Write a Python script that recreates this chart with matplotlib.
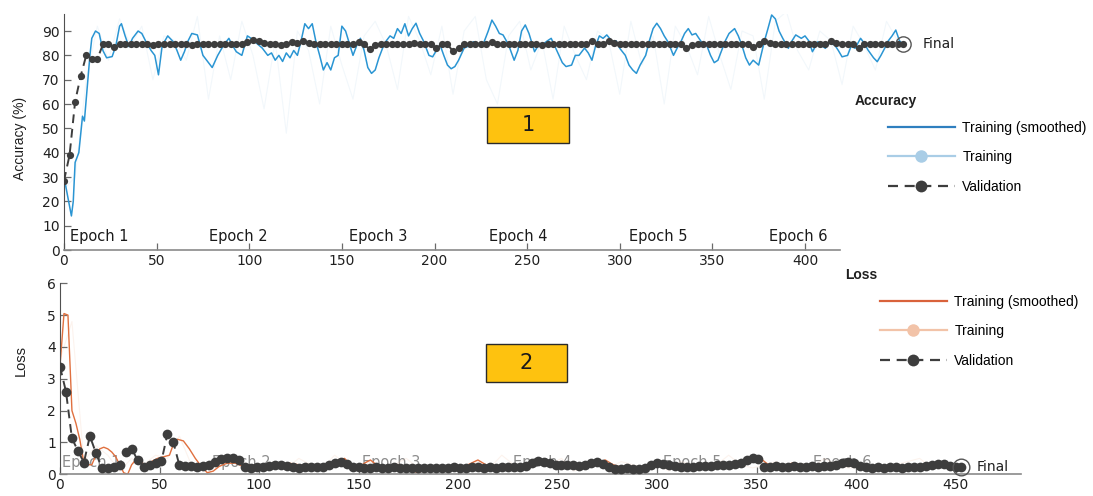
import numpy as np
import matplotlib
matplotlib.use("Agg")
import matplotlib.pyplot as plt
from matplotlib.patches import Rectangle
from matplotlib.lines import Line2D

W, H = 1093, 496

# iterations where validation was run (every 3 iterations)
val_iter = np.arange(0, 454, 3)

# smoothed training accuracy, read at selected iterations
acc_iter = [0, 2, 4, 5, 6, 8, 10, 11, 12, 14, 15, 17, 19, 21, 23, 26, 28, 30, 31, 33,
            35, 37, 40, 42, 44, 47, 49, 51, 53, 56, 59, 61, 63, 65, 67, 69, 72, 75, 78, 80,
            83, 86, 89, 91, 93, 96, 99, 101, 103, 107, 110, 112, 114, 116, 118, 120, 122, 124, 126, 128,
            130, 132, 134, 136, 138, 140, 142, 144, 146, 148, 150, 152, 154, 156, 158, 160, 162, 164, 166, 168,
            170, 172, 174, 176, 178, 180, 182, 184, 186, 188, 190, 192, 194, 197, 199, 201, 203, 205, 207, 209,
            211, 213, 216, 219, 221, 224, 226, 229, 231, 233, 235, 237, 240, 243, 245, 247, 249, 251, 254, 256,
            258, 261, 263, 266, 269, 271, 274, 276, 278, 281, 283, 285, 287, 289, 291, 293, 296, 298, 300, 303,
            305, 307, 309, 311, 314, 316, 318, 320, 322, 324, 326, 329, 331, 333, 335, 337, 339, 341, 344, 347,
            349, 351, 353, 355, 357, 359, 362, 364, 366, 368, 370, 372, 375, 378, 380, 382, 384, 386, 388, 391,
            393, 395, 398, 400, 402, 404, 407, 409, 411, 413, 416, 418, 420, 423, 425, 427, 430, 432, 434, 437,
            439, 441, 443, 445, 447, 449, 451, 453]
acc_smooth = [30, 22, 14, 20, 36, 40, 55, 53, 62, 80, 87, 90, 89, 82, 79, 79.5, 84, 92, 93, 88,
              83.6, 87, 90, 89, 86, 82, 80, 72, 84, 88, 85.6, 82, 78, 81.5, 86, 89, 88.4, 80, 77, 75,
              80, 84, 87, 84, 81.5, 80, 88, 87, 85.6, 83, 80, 81, 78, 80, 77.5, 81, 79, 82, 80, 86,
              93, 91, 93, 85.6, 80, 74, 77, 74, 79, 80, 92, 90, 85, 80, 84, 87, 82, 75, 72.6, 74,
              79, 83, 86, 88, 87, 91, 89, 93, 88, 91, 93.2, 89, 86, 80, 79.4, 82, 84.3, 80, 76, 74.5,
              75.4, 78, 83, 84, 85.6, 84.3, 84, 90, 94.5, 92, 89, 88.4, 84.3, 78, 82, 90, 92.5, 89, 81.5, 84,
              84.3, 86, 87, 82, 77, 75.4, 76, 80, 80, 83, 81, 78, 84, 88, 87, 88.4, 85.6, 86, 82.9, 80,
              76, 74, 72.6, 76, 80, 86, 91, 93.2, 91, 88, 85.6, 80, 83, 85.6, 89, 91, 88.4, 89, 85.6, 84,
              80, 77, 78, 82, 86, 89, 91, 88, 84, 79, 76, 78, 76, 85.6, 91, 96.6, 95, 90, 87, 82.9,
              86, 88.4, 87, 88, 86, 81.5, 85.6, 84, 82.9, 85, 84.3, 82, 79.4, 80, 84, 82.9, 87, 85, 82.2, 79,
              77.4, 80, 82.9, 86, 88, 90.4, 86, 84.5]

# raw training accuracy (every 6 iterations)
raw_iter = np.arange(0, 451, 6)
acc_raw = [25, 30, 70, 92, 78, 95, 84, 92, 70, 88, 86, 78,
           96, 62, 88, 70, 94, 80, 58, 86, 48, 90, 82, 60,
           92, 76, 62, 88, 94, 84, 66, 96, 86, 72, 92, 64,
           90, 96, 70, 60, 88, 94, 74, 86, 62, 92, 80, 70,
           90, 86, 64, 94, 76, 88, 60, 92, 84, 72, 96, 80,
           66, 90, 88, 62, 94, 98, 82, 74, 90, 86, 68, 92,
           84, 74, 94, 86]

acc_val = [28.5, 39.0, 61.0, 71.5, 80.0, 78.5, 78.5, 84.5, 84.5, 83.5, 84.5, 84.6,
           84.5, 84.6, 84.5, 84.5, 84.4, 84.5, 84.5, 84.6, 84.5, 84.5, 84.5, 84.4,
           84.5, 84.5, 84.5, 84.6, 84.5, 84.5, 84.5, 84.5, 84.6, 85.5, 86.5, 86.0,
           85.0, 84.5, 84.5, 84.4, 84.5, 85.3, 85.0, 86.0, 85.0, 84.5, 84.5, 84.6,
           84.5, 84.5, 84.6, 84.5, 84.5, 85.3, 84.5, 82.5, 84.4, 84.5, 84.6, 84.5,
           84.5, 84.6, 84.5, 85.2, 84.6, 84.5, 84.5, 83.0, 84.5, 84.6, 81.6, 83.0,
           84.5, 84.5, 84.6, 84.5, 84.5, 85.3, 84.6, 84.5, 84.5, 84.5, 84.6, 84.5,
           84.5, 84.5, 84.4, 84.5, 84.5, 84.6, 84.5, 84.5, 84.5, 84.6, 84.5, 85.7,
           84.8, 84.5, 86.0, 85.0, 84.6, 84.5, 84.5, 84.5, 84.6, 84.5, 84.5, 84.5,
           84.5, 84.6, 84.5, 84.5, 83.0, 84.4, 84.5, 84.5, 84.6, 84.5, 84.5, 84.5,
           84.6, 84.5, 84.5, 84.5, 83.5, 84.6, 86.0, 85.0, 84.5, 84.5, 84.6, 84.5,
           84.5, 84.5, 84.6, 84.5, 84.5, 84.5, 85.7, 85.2, 84.5, 84.6, 84.5, 83.0,
           84.5, 84.5, 84.6, 84.5, 84.5, 84.5, 84.6, 84.6]

# smoothed training loss
loss_iter = [0, 2, 4, 6, 8, 10, 12, 14, 16, 18, 20, 22, 24, 26, 28, 30, 32, 34, 36, 38,
             40, 43, 46, 49, 52, 55, 57, 59, 62, 65, 68, 71, 74, 77, 80, 84, 88, 92, 96, 100,
             105, 110, 115, 120, 125, 130, 135, 140, 143, 146, 150, 153, 156, 160, 165, 170, 175, 180, 185, 190,
             200, 205, 210, 214, 220, 228, 235, 240, 245, 250, 255, 260, 265, 270, 274, 278, 283, 290, 296, 302,
             308, 315, 322, 330, 338, 344, 348, 352, 356, 362, 368, 374, 380, 388, 394, 398, 404, 412, 420, 428,
             436, 440, 444, 448, 453]
loss_smooth = [3.4, 5.05, 5.0, 2.0, 1.6, 1.08, 0.35, 0.3, 0.3, 0.6, 0.8, 0.85, 0.8, 0.7, 0.55, 0.3, 0.05, 0.0, 0.3, 0.45,
               0.4, 0.3, 0.4, 0.5, 0.55, 0.6, 0.95, 1.1, 1.05, 0.8, 0.5, 0.25, 0.05, 0.1, 0.25, 0.35, 0.35, 0.25, 0.3, 0.25,
               0.3, 0.2, 0.35, 0.3, 0.25, 0.3, 0.2, 0.45, 0.5, 0.3, 0.2, 0.35, 0.45, 0.25, 0.2, 0.3, 0.15, 0.05, 0.2, 0.25,
               0.2, 0.3, 0.45, 0.3, 0.2, 0.25, 0.3, 0.35, 0.4, 0.3, 0.25, 0.2, 0.3, 0.35, 0.45, 0.3, 0.2, 0.15, 0.2, 0.3,
               0.25, 0.2, 0.25, 0.3, 0.25, 0.35, 0.55, 0.5, 0.3, 0.25, 0.35, 0.3, 0.25, 0.3, 0.4, 0.35, 0.25, 0.2, 0.25, 0.2,
               0.25, 0.35, 0.4, 0.3, 0.25]

loss_raw = [3.6, 4.8, 0.4, 0.9, 0.6, 0.1, 0.5, 0.3, 0.6, 0.5, 1.2, 0.3,
            0.1, 0.4, 0.3, 0.5, 0.2, 0.3, 0.4, 0.2, 0.5, 0.3, 0.2, 0.6,
            0.3, 0.1, 0.4, 0.2, 0.3, 0.5, 0.2, 0.3, 0.1, 0.3, 0.2, 0.4,
            0.2, 0.6, 0.3, 0.2, 0.4, 0.3, 0.5, 0.1, 0.2, 0.3, 0.2, 0.4,
            0.3, 0.2, 0.3, 0.1, 0.4, 0.3, 0.2, 0.3, 0.6, 0.3, 0.2, 0.3,
            0.4, 0.2, 0.3, 0.2, 0.5, 0.3, 0.2, 0.2, 0.3, 0.2, 0.3, 0.4,
            0.5, 0.2, 0.3, 0.2]

loss_val = [3.38, 2.60, 1.13, 0.74, 0.37, 1.20, 0.68, 0.20, 0.20, 0.22, 0.30, 0.71,
            0.80, 0.45, 0.22, 0.30, 0.36, 0.42, 1.27, 1.00, 0.28, 0.27, 0.25, 0.22,
            0.25, 0.30, 0.38, 0.47, 0.52, 0.50, 0.46, 0.22, 0.21, 0.22, 0.24, 0.26,
            0.30, 0.28, 0.25, 0.22, 0.21, 0.22, 0.23, 0.22, 0.24, 0.30, 0.35, 0.40,
            0.32, 0.24, 0.22, 0.20, 0.21, 0.22, 0.20, 0.21, 0.22, 0.20, 0.19, 0.20,
            0.21, 0.20, 0.19, 0.20, 0.21, 0.20, 0.22, 0.21, 0.20, 0.22, 0.22, 0.21,
            0.22, 0.21, 0.22, 0.23, 0.22, 0.22, 0.26, 0.35, 0.42, 0.40, 0.35, 0.30,
            0.30, 0.28, 0.30, 0.26, 0.30, 0.36, 0.40, 0.32, 0.22, 0.18, 0.18, 0.19,
            0.18, 0.18, 0.20, 0.30, 0.34, 0.33, 0.30, 0.26, 0.24, 0.23, 0.24, 0.26,
            0.25, 0.26, 0.28, 0.30, 0.28, 0.32, 0.35, 0.45, 0.52, 0.48, 0.22, 0.24,
            0.25, 0.24, 0.23, 0.25, 0.24, 0.23, 0.25, 0.24, 0.25, 0.26, 0.30, 0.36,
            0.38, 0.34, 0.25, 0.22, 0.21, 0.22, 0.21, 0.22, 0.22, 0.21, 0.22, 0.23,
            0.22, 0.25, 0.30, 0.33, 0.32, 0.26, 0.22, 0.22]

epoch_starts = [0, 75.5, 151, 226.5, 302, 377.5]
epoch_labels = ["Epoch 1", "Epoch 2", "Epoch 3", "Epoch 4", "Epoch 5", "Epoch 6"]
legend_labels = ["Training (smoothed)", "Training", "Validation"]

NARROW = ["Liberation Sans Narrow", "Liberation Sans", "DejaVu Sans"]
plt.rcParams["font.family"] = ["DejaVu Sans"]

BLUE = "#2a95d3"
BLUE_LIGHT = "#a9cde6"
ORANGE = "#e0703f"
ORANGE_LIGHT = "#f2c3a8"
GRAY = "#3d3d3d"
DASH = (0, (4.5, 3))


def px_box(left, top, right, bottom):
    return [left / W, 1 - bottom / H, (right - left) / W, (bottom - top) / H]


def style_axes(ax, tick_size):
    for side in ("top", "right"):
        ax.spines[side].set_visible(False)
    ax.spines["left"].set_color("#505050")
    ax.spines["bottom"].set_color("#8a8a8a")
    ax.spines["bottom"].set_linewidth(1.2)
    ax.tick_params(direction="in", length=5, width=0.9, colors="#6a6a6a",
                   labelcolor="#202020", labelsize=tick_size, pad=3)


fig = plt.figure(figsize=(W / 100, H / 100), dpi=100)

# ---- accuracy panel ----
ax1 = fig.add_axes(px_box(64, 14, 64 + 460 * 1.8525, 250))
ax1.plot(raw_iter, acc_raw, color=BLUE_LIGHT, lw=0.8, alpha=0.15, zorder=1)
ax1.plot(acc_iter, acc_smooth, color=BLUE, lw=1.1, zorder=2)
ax1.plot(val_iter, acc_val, color=GRAY, lw=1.4, ls=DASH, marker="o", ms=5.2,
         markeredgewidth=0, zorder=3)
ax1.plot(val_iter[-1], acc_val[-1], marker="o", ms=11, mfc="none", mec="#555555",
         mew=1.0, zorder=4, clip_on=False)
ax1.annotate("Final", (val_iter[-1], acc_val[-1]), xytext=(14, 0), textcoords="offset points",
             va="center", ha="left", fontsize=10, color="#202020", annotation_clip=False)
ax1.set_xlim(0, 460)
ax1.set_ylim(0, 97)
ax1.set_xticks(range(0, 401, 50))
ax1.set_yticks(range(0, 91, 10))
ax1.spines["bottom"].set_bounds(0, 419)
style_axes(ax1, 10)
for start, label in zip(epoch_starts, epoch_labels):
    ax1.text(start + 3, 2.5, label, fontsize=10.5, color="#1a1a1a", va="bottom", zorder=0)

# ---- loss panel ----
ax2 = fig.add_axes(px_box(60, 283.3, 60 + 483 * 1.99, 474.3))
ax2.plot(raw_iter, loss_raw, color=ORANGE_LIGHT, lw=0.8, alpha=0.2, zorder=1)
ax2.plot(loss_iter, loss_smooth, color=ORANGE, lw=1.0, zorder=2)
ax2.plot(val_iter, loss_val, color=GRAY, lw=1.4, ls=DASH, marker="o", ms=7,
         markeredgewidth=0, zorder=3)
ax2.plot(val_iter[-1], loss_val[-1], marker="o", ms=12, mfc="none", mec="#555555",
         mew=1.0, zorder=4, clip_on=False)
ax2.annotate("Final", (val_iter[-1], loss_val[-1]), xytext=(11, 0), textcoords="offset points",
             va="center", ha="left", fontsize=10, color="#202020", annotation_clip=False)
ax2.set_xlim(0, 483)
ax2.set_ylim(0, 6)
ax2.set_xticks(range(0, 451, 50))
ax2.set_yticks(range(0, 7))
style_axes(ax2, 10)
for start, label in zip(epoch_starts, epoch_labels):
    ax2.text(start + 1, 0.12, label, fontsize=10.5, color="#8c8c8c", va="bottom", zorder=0)

# axis labels
fig.text(20 / W, 1 - 138 / H, "Accuracy (%)", rotation=90, ha="center", va="center",
         fontsize=10, family=NARROW, color="#202020")
fig.text(21 / W, 1 - 360 / H, "Loss", rotation=90, ha="center", va="center",
         fontsize=10.5, family=NARROW, color="#202020")


def add_legend(color, light, title, title_x, title_y, left, top):
    handles = [
        Line2D([], [], color=color, lw=1.6),
        Line2D([], [], color=light, lw=1.6, marker="o", ms=9, markeredgewidth=0),
        Line2D([], [], color=GRAY, lw=1.6, ls=DASH, marker="o", ms=8.5, markeredgewidth=0),
    ]
    fig.text(title_x / W, 1 - title_y / H, title, fontsize=10, weight="bold",
             family=NARROW, va="center", ha="left", color="#202020")
    fig.legend(handles, legend_labels, loc="upper left", bbox_to_anchor=(left / W, 1 - top / H),
               frameon=False, handlelength=4.8, handletextpad=0.55, labelspacing=1.1,
               borderpad=0, borderaxespad=0, numpoints=1,
               prop={"family": NARROW, "size": 10})


add_legend("#2f7fbf", BLUE_LIGHT, "Accuracy", 855, 101, 888, 121)
add_legend("#d9623b", ORANGE_LIGHT, "Loss", 845, 275, 880, 295)

# numbered tags
for (l, t, r, b), tag in zip([(487, 107, 569, 143), (486, 344, 567, 382)], ["1", "2"]):
    fig.add_artist(Rectangle((l / W, 1 - b / H), (r - l) / W, (b - t) / H,
                             transform=fig.transFigure, facecolor="#fec20f",
                             edgecolor="#2a2a2a", lw=1.0))
    fig.text((l + r) / 2 / W, 1 - (t + b) / 2 / H, tag, fontsize=15,
             ha="center", va="center", color="#1a1a1a")

fig.savefig("out.png", dpi=100)
